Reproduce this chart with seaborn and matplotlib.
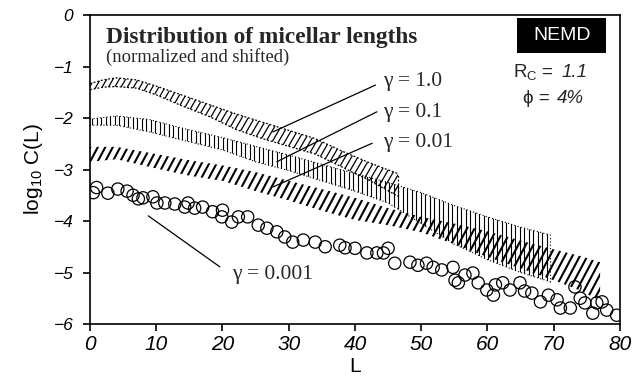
import matplotlib
matplotlib.use("Agg")
import matplotlib.pyplot as plt
from matplotlib.collections import LineCollection
from matplotlib.patches import Rectangle
import numpy as np
import pandas as pd
import seaborn as sns

# ---- band data: log10 C(L) envelopes for each shear rate ----
band_g1_L = [0, 2, 4, 7, 10, 14, 18, 22, 26, 30, 34, 38, 42, 46.5]
band_g1_hi = [-1.33, -1.26, -1.22, -1.26, -1.38, -1.56, -1.74, -1.92, -2.08, -2.24, -2.40, -2.64, -2.86, -3.08]
band_g1_lo = [-1.45, -1.40, -1.39, -1.42, -1.55, -1.77, -1.97, -2.22, -2.40, -2.55, -2.70, -2.95, -3.20, -3.52]

band_g01_L = [0, 4, 9, 14, 20, 25, 30, 35, 40, 45, 50, 55, 60, 65, 69.5]
band_g01_hi = [-2.02, -1.96, -2.03, -2.20, -2.38, -2.55, -2.72, -2.90, -3.08, -3.25, -3.45, -3.70, -3.92, -4.12, -4.27]
band_g01_lo = [-2.14, -2.14, -2.27, -2.43, -2.62, -2.85, -3.02, -3.22, -3.42, -3.65, -4.05, -4.45, -4.75, -5.00, -5.18]

band_g001_L = [0, 4, 10, 15, 20, 25, 30, 35, 40, 45, 50, 55, 60, 65, 70, 74, 77]
band_g001_hi = [-2.56, -2.56, -2.70, -2.82, -2.92, -3.05, -3.22, -3.38, -3.55, -3.75, -3.92, -4.05, -4.20, -4.38, -4.55, -4.68, -4.80]
band_g001_lo = [-2.85, -2.80, -2.98, -3.12, -3.22, -3.42, -3.60, -3.80, -3.98, -4.08, -4.22, -4.45, -4.70, -4.92, -5.15, -5.35, -5.55]

# ---- gamma = 0.001 points ----
pts_L = [0.5, 1.0, 2.7, 4.2, 5.6, 6.5, 7.3, 8.0, 9.5, 10.1, 11.3, 12.8, 14.3, 14.8, 15.8,
         17.0, 18.5, 19.9, 20.0, 21.4, 22.4, 23.8, 25.4, 26.7, 28.2, 29.4, 30.6, 32.2,
         34.0, 35.5, 37.7, 38.5, 40.0, 41.8, 43.3, 44.3, 45.0, 46.0, 48.3, 49.5, 50.8,
         51.8, 53.1, 54.8, 55.1, 55.6, 56.6, 57.8, 58.6, 59.9, 60.9, 61.2, 62.3, 63.4,
         64.9, 65.6, 66.7, 68.0, 69.2, 70.5, 71.0, 72.5, 73.2, 74.0, 74.7, 75.9, 76.5,
         77.3, 78.0, 79.5]
pts_logC = [-3.45, -3.35, -3.46, -3.38, -3.42, -3.50, -3.57, -3.55, -3.53, -3.65, -3.65,
            -3.67, -3.73, -3.65, -3.75, -3.73, -3.82, -3.92, -3.79, -4.02, -3.92, -3.92,
            -4.08, -4.14, -4.21, -4.31, -4.41, -4.37, -4.41, -4.50, -4.47, -4.52, -4.53,
            -4.62, -4.62, -4.62, -4.53, -4.82, -4.80, -4.86, -4.82, -4.90, -4.95, -4.90,
            -5.15, -5.20, -5.05, -5.01, -5.20, -5.34, -5.44, -5.24, -5.20, -5.34, -5.20,
            -5.36, -5.40, -5.57, -5.44, -5.53, -5.69, -5.69, -5.28, -5.50, -5.59, -5.79,
            -5.59, -5.57, -5.73, -5.83]

x_ticks = [0, 10, 20, 30, 40, 50, 60, 70, 80]
x_tick_labels = ["0", "10", "20", "30", "40", "50", "60", "70", "80"]
y_ticks = [-6, -5, -4, -3, -2, -1, 0]
y_tick_labels = ["\u22126", "\u22125", "\u22124", "\u22123", "\u22122", "\u22121", "0"]

sns.set_theme(style="ticks")
plt.rcParams["font.family"] = ["Liberation Sans", "DejaVu Sans"]
plt.rcParams["mathtext.fontset"] = "custom"
plt.rcParams["mathtext.rm"] = "Liberation Sans"
plt.rcParams["mathtext.it"] = "Liberation Sans:italic"
plt.rcParams["mathtext.bf"] = "Liberation Sans:bold"

fig = plt.figure(figsize=(6.41, 3.81), dpi=100)
ax = fig.add_axes([0.1404, 0.1496, 0.8268, 0.811])
ax.set_facecolor("white")
ax.set_xlim(0, 80)
ax.set_ylim(-6, 0)

# pixel size of one data unit, used to keep hatch angles in screen space
_p0 = ax.transData.transform((0, 0))
_p1 = ax.transData.transform((1, 1))
PX_X, PX_Y = _p1[0] - _p0[0], _p1[1] - _p0[1]


def band(L, hi, lo, spacing_px, angle_deg, hatch_lw, edge_ls=None, edge_lw=0.9):
    """Hatched envelope between lo and hi, hatched at a given screen angle."""
    poly = ax.fill_between(L, lo, hi, facecolor="none", edgecolor="none", linewidth=0)
    path = poly.get_paths()[0]
    step = spacing_px / PX_X
    if angle_deg >= 89.9:
        starts = np.arange(-step / 2, 80 + step, step)
        segs = [[(x, -6.5), (x, 0.5)] for x in starts]
    else:
        k = np.tan(np.radians(angle_deg)) * PX_X / PX_Y  # data-space slope
        run = 7.0 / k
        starts = np.arange(-run - 2, 82, step)
        segs = [[(x, -6.5), (x + run, 0.5)] for x in starts]
    lc = LineCollection(segs, colors="black", linewidths=hatch_lw, capstyle="butt")
    ax.add_collection(lc)
    lc.set_clip_path(path, ax.transData)
    if edge_ls is not None:
        for yy in (hi, lo):
            ax.plot(L, yy, color="black", lw=edge_lw, ls=edge_ls)
        ax.plot([L[-1], L[-1]], [lo[-1], hi[-1]], color="black", lw=edge_lw, ls=edge_ls)


band(band_g1_L, band_g1_hi, band_g1_lo, 6.3, 60, 0.9, edge_ls=(0, (1.5, 1.5)))
band(band_g01_L, band_g01_hi, band_g01_lo, 4.5, 90, 0.8, edge_ls=(0, (1, 2)), edge_lw=0.8)
band(band_g001_L, band_g001_hi, band_g001_lo, 7.5, 62, 1.5)

pts = pd.DataFrame({"L": pts_L, "logC": pts_logC})
sns.scatterplot(data=pts, x="L", y="logC", ax=ax, marker="o", s=78,
                color="black", facecolor="none", edgecolor="black", linewidth=0.9,
                zorder=4)

# leader lines and labels
serif = "Liberation Serif"
for (x0, y0, x1, y1) in [(43.1, -1.36, 27.6, -2.27),
                         (43.3, -1.88, 28.2, -2.85),
                         (42.6, -2.49, 27.6, -3.34),
                         (8.8, -3.90, 19.6, -4.89)]:
    ax.plot([x0, x1], [y0, y1], color="black", lw=0.9)

ax.text(44.2, -1.38, "\u03b3 = 1.0", family=serif, fontsize=15.5, va="baseline")
ax.text(44.2, -1.98, "\u03b3 = 0.1", family=serif, fontsize=15.5, va="baseline")
ax.text(44.2, -2.57, "\u03b3 = 0.01", family=serif, fontsize=15.5, va="baseline")
ax.text(21.4, -5.13, "\u03b3 = 0.001", family=serif, fontsize=15.5, va="baseline")

ax.text(2.4, -0.54, "Distribution of micellar lengths", family=serif,
        fontweight="bold", fontsize=16.8, va="baseline")
ax.text(2.4, -0.91, "(normalized and shifted)", family=serif, fontsize=13.4,
        va="baseline")

ax.add_patch(Rectangle((64.45, -0.738), 13.45, 0.68, facecolor="black",
                       edgecolor="none", zorder=5))
ax.text(71.2, -0.40, "NEMD", color="white", fontsize=14, ha="center",
        va="center", zorder=6)
ax.text(63.8, -1.20, "R$_\\mathregular{C}$ = ", fontsize=13.5, va="baseline")
ax.text(71.2, -1.20, "1.1", fontsize=13.5, fontstyle="italic", va="baseline")
ax.text(65.4, -1.71, "\u03d5 = ", fontsize=13.5, va="baseline")
ax.text(70.4, -1.71, "4%", fontsize=13.5, fontstyle="italic", va="baseline")

ax.set_xticks(x_ticks, labels=x_tick_labels, fontsize=15, fontstyle="italic")
ax.set_yticks(y_ticks, labels=y_tick_labels, fontsize=12.5, fontstyle="italic")
ax.set_xlim(0, 80)
ax.set_ylim(-6, 0)
ax.tick_params(axis="both", direction="out", length=5, width=1.2, color="black",
               labelcolor="black")
ax.tick_params(axis="y", pad=7)
ax.tick_params(axis="x", pad=3)
ax.set_xlabel("L", fontsize=15, labelpad=2, color="black")
ax.set_ylabel("$\\mathregular{log_{10}}$ C(L)", fontsize=15, labelpad=6, color="black")
for side in ["left", "bottom", "top", "right"]:
    ax.spines[side].set_visible(True)
    ax.spines[side].set_color("black")
    ax.spines[side].set_linewidth(1.2)

fig.savefig("out.png", dpi=100, facecolor="white")
